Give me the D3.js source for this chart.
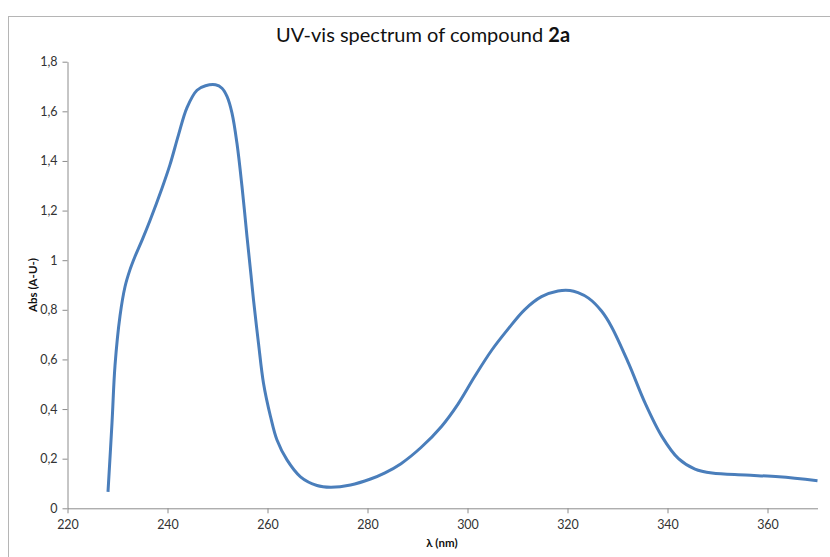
<!DOCTYPE html>
<html>
<head>
<meta charset="utf-8">
<script src="https://cdn.jsdelivr.net/npm/d3@7"></script>
<style>
  html, body { margin: 0; padding: 0; background: #fff; }
  svg { display: block; }
</style>
</head>
<body>
<svg id="chart" width="830" height="557"></svg>
<script>
// Data
const wavelength = [228.1, 228.9, 229.5, 230.5, 231.5, 232.5, 233.5, 235, 236.5, 238.9, 240.5, 242.2, 243.9, 245.9, 247.6, 249.6, 250.9, 251.9, 252.9, 253.9, 254.9, 255.9, 256.7, 257.2, 258.2, 259.2, 260.6, 261.9, 263.9, 266.6, 269.9, 272.6, 276.6, 280.6, 283.5, 286.7, 290.7, 294.8, 298.1, 301.4, 304.8, 308.1, 311.4, 314.8, 318.1, 320.5, 322.1, 324.2, 326.8, 328.8, 332.2, 335.5, 338.9, 342.2, 345.5, 348.9, 355.6, 362.3, 370];
const absorbance = [0.066, 0.344, 0.575, 0.775, 0.893, 0.962, 1.015, 1.085, 1.16, 1.29, 1.385, 1.505, 1.615, 1.685, 1.703, 1.707, 1.693, 1.66, 1.593, 1.47, 1.297, 1.095, 0.94, 0.84, 0.665, 0.504, 0.37, 0.275, 0.195, 0.127, 0.092, 0.085, 0.094, 0.118, 0.143, 0.18, 0.245, 0.33, 0.42, 0.53, 0.636, 0.722, 0.80, 0.853, 0.876, 0.878, 0.869, 0.847, 0.795, 0.732, 0.585, 0.425, 0.289, 0.20, 0.158, 0.142, 0.134, 0.127, 0.111];
const xTicks = [220, 240, 260, 280, 300, 320, 340, 360];
const yTicks = [0, 0.2, 0.4, 0.6, 0.8, 1, 1.2, 1.4, 1.6, 1.8];
const titleText = "UV-vis spectrum of compound ";
const titleBold = "2a";
const xLabel = "λ (nm)";
const yLabel = "Abs (A-U-)";

const svg = d3.select("#chart");
const font = "Lato, 'Open Sans', sans-serif";

// frame
svg.append("rect")
  .attr("x", 8.5).attr("y", 16.5)
  .attr("width", 840).attr("height", 560)
  .attr("fill", "none").attr("stroke", "#b5b5b5").attr("stroke-width", 1);

const x = d3.scaleLinear().domain([220, 370]).range([67.5, 817.5]);
const y = d3.scaleLinear().domain([0, 1.8]).range([508.3, 61.7]);

const fmt = d => String(d).replace(".", ",");

const axisColor = "#8c8c8c";

const gx = svg.append("g").attr("transform", `translate(0,${y(0)})`)
  .call(d3.axisBottom(x).tickValues(xTicks).tickSize(5).tickSizeOuter(0).tickFormat(d => d));
const gy = svg.append("g").attr("transform", `translate(${x(220)},0)`)
  .call(d3.axisLeft(y).tickValues(yTicks).tickSize(5).tickSizeOuter(0).tickFormat(fmt));

[gx, gy].forEach(g => {
  g.select(".domain").attr("stroke", axisColor);
  g.selectAll(".tick line").attr("stroke", axisColor);
  g.selectAll(".tick text").attr("fill", "#333").attr("font-size", 12.5).attr("font-family", font);
});
gx.selectAll(".tick text").attr("dy", "1.0em");
gy.selectAll(".tick text").attr("x", -10);

// line
const line = d3.line()
  .x((d, i) => x(wavelength[i]))
  .y(d => y(d))
  .curve(d3.curveCatmullRom.alpha(0.5));

svg.append("path")
  .datum(absorbance)
  .attr("d", line)
  .attr("fill", "none")
  .attr("stroke", "#4a7ebb")
  .attr("stroke-width", 3)
  .attr("stroke-linejoin", "round")
  .attr("stroke-linecap", "butt");

// title
const t = svg.append("text")
  .attr("x", 423).attr("y", 42)
  .attr("text-anchor", "middle")
  .attr("font-family", font)
  .attr("font-size", 20)
  .attr("fill", "#111");
t.append("tspan").text(titleText);
t.append("tspan").attr("font-weight", "bold").text(titleBold);

// axis labels
svg.append("text")
  .attr("x", 442).attr("y", 547)
  .attr("text-anchor", "middle")
  .attr("font-family", font)
  .attr("font-weight", "bold")
  .attr("font-size", 11.5)
  .attr("fill", "#111")
  .text(xLabel);

svg.append("text")
  .attr("transform", "translate(37,285) rotate(-90)")
  .attr("text-anchor", "middle")
  .attr("font-family", font)
  .attr("font-weight", "bold")
  .attr("font-size", 11.5)
  .attr("fill", "#111")
  .text(yLabel);
</script>
</body>
</html>
